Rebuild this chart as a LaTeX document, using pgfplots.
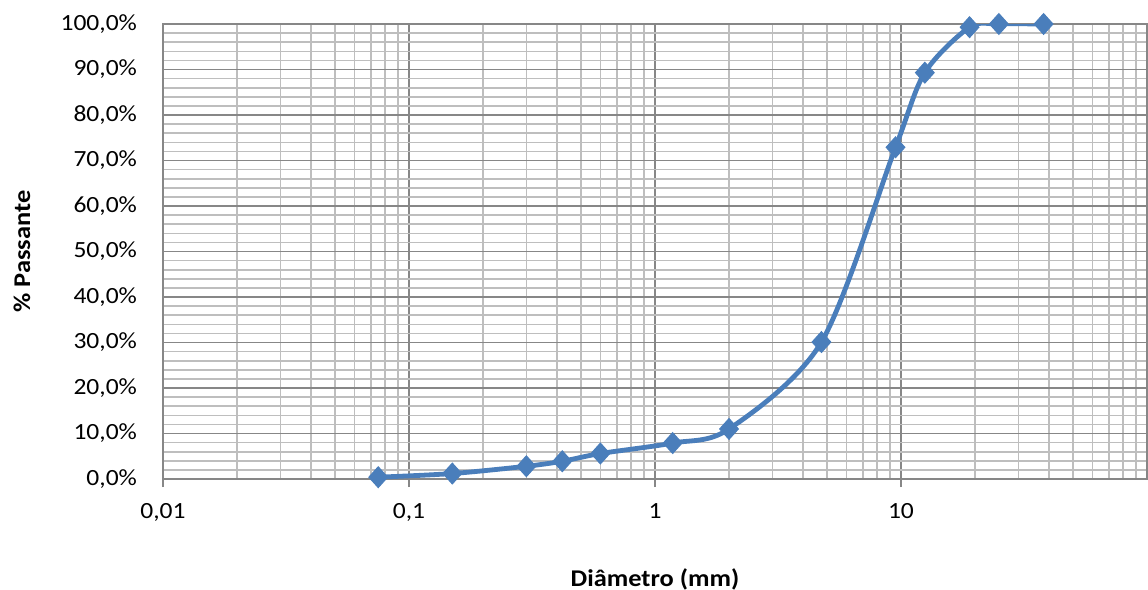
\documentclass[border=0pt]{standalone}
\usepackage{fontspec}
\setmainfont[FakeStretch=1.1]{Carlito}
\usepackage{pgfplots}
\pgfplotsset{compat=1.18}
\definecolor{serie}{HTML}{4A7EBB}
\definecolor{gridmaj}{HTML}{878787}
\definecolor{gridmin}{HTML}{BEBEBE}
\begin{document}
\begin{tikzpicture}[font=\fontsize{12pt}{14pt}\selectfont]
\begin{axis}[
  at={(0,0)}, anchor=south west,
  scale only axis,
  width=492pt, height=227.5pt,
  xmode=log,
  xmin=0.01, xmax=100,
  ymin=0, ymax=100,
  xtick={0.01,0.1,1,10},
  xticklabels={{0,01},{0,1},{1},{10}},
  minor xtick={0.02,0.03,0.04,0.05,0.06,0.07,0.08,0.09,
               0.2,0.3,0.4,0.5,0.6,0.7,0.8,0.9,
               2,3,4,5,6,7,8,9,
               20,30,40,50,60,70,80,90},
  ytick={0,10,...,100},
  yticklabels={{0,0\%},{10,0\%},{20,0\%},{30,0\%},{40,0\%},{50,0\%},
               {60,0\%},{70,0\%},{80,0\%},{90,0\%},{100,0\%}},
  minor y tick num=4,
  grid=both,
  major grid style={draw=gridmaj, line width=0.8pt},
  minor grid style={draw=gridmin, line width=0.8pt},
  axis line style={draw=gridmaj, line width=0.8pt},
  xtick pos=bottom, ytick pos=left,
  tick align=outside,
  major tick length=4pt,
  minor tick length=0pt,
  x tick style={draw=gridmaj, line width=0.8pt},
  y tick style={draw=none},
  ticklabel style={font=\fontsize{11.6pt}{13pt}\selectfont},
  xticklabel style={anchor=base, yshift=-15.8pt},
  yticklabel style={anchor=east, xshift=-5.5pt},
  xlabel={\bfseries Diâmetro (mm)},
  ylabel={\bfseries \% Passante},
  xlabel style={at={(axis description cs:0.5,0)}, anchor=center, yshift=-50pt},
  ylabel style={at={(axis description cs:-0.1433,0.5)}, anchor=center},
]
\addplot[serie, line width=2.4pt, smooth,
  mark=diamond*, mark size=5.2pt,
  mark options={solid, fill=serie, draw=serie, line width=0.5pt, xscale=1.2}]
coordinates {
  (0.075,0.4) (0.15,1.2) (0.3,2.8) (0.42,3.9) (0.6,5.6) (1.18,7.9)
  (2.0,11.0) (4.75,30.1) (9.5,72.9) (12.5,89.3) (19,99.3) (25,100) (38,100)
};
\end{axis}
\pgfresetboundingbox
\path (-81.5pt,-55.5pt) rectangle (492.5pt,239.5pt);
\end{tikzpicture}
\end{document}
